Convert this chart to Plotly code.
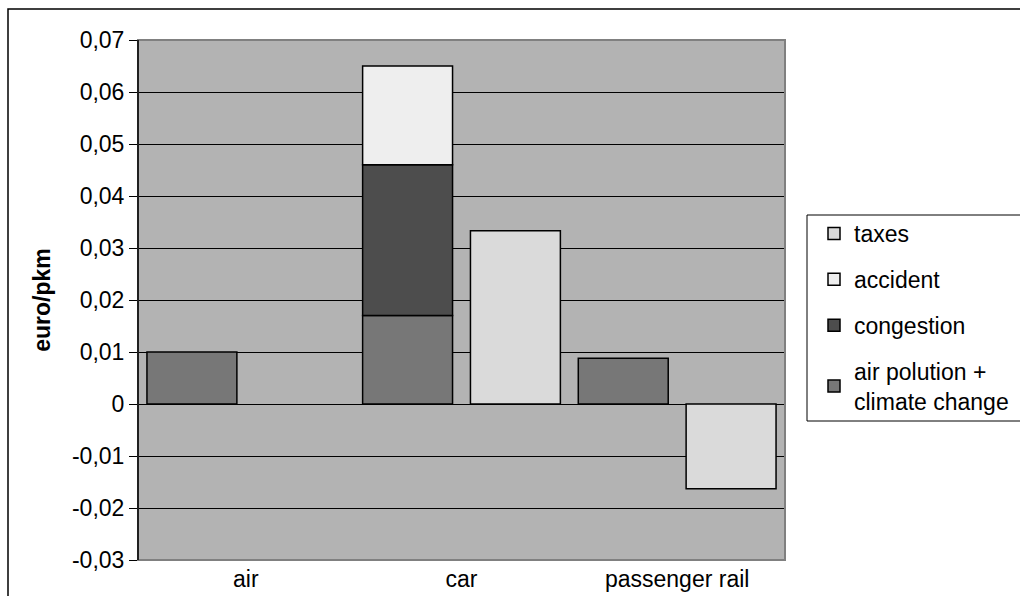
import plotly.graph_objects as go

# Categories and cost components (euro per passenger-km); None = component not present
categories = ["air", "car", "passenger rail"]
air_pollution = [0.010, 0.017, 0.0088]
congestion = [None, 0.029, None]
accident = [None, 0.019, None]
taxes = [None, 0.0333, -0.0163]

# Y axis ticks
tick_values = [-0.03, -0.02, -0.01, 0.0, 0.01, 0.02, 0.03, 0.04, 0.05, 0.06, 0.07]
tick_labels = ["-0,03", "-0,02", "-0,01", "0", "0,01", "0,02", "0,03", "0,04", "0,05", "0,06", "0,07"]

FONT = "Liberation Sans, Arial, sans-serif"
FS = 23
outline = dict(color="#000000", width=1.5)


def v(x):
    return 0.0 if x is None else x


# Stack bases computed from the component values
base_congestion = [v(a) for a in air_pollution]
base_accident = [v(a) + v(c) for a, c in zip(air_pollution, congestion)]

fig = go.Figure()
fig.add_trace(go.Bar(
    x=categories, y=air_pollution, base=[0, 0, 0],
    name="air polution +<br>climate change", offsetgroup="costs",
    legendgroup="g4", legendrank=4,
    marker=dict(color="#777777", line=outline),
))
fig.add_trace(go.Bar(
    x=categories, y=congestion, base=base_congestion,
    name="congestion", offsetgroup="costs",
    legendgroup="g3", legendrank=3,
    marker=dict(color="#4d4d4d", line=outline),
))
fig.add_trace(go.Bar(
    x=categories, y=accident, base=base_accident,
    name="accident", offsetgroup="costs",
    legendgroup="g2", legendrank=2,
    marker=dict(color="#eeeeee", line=outline),
))
fig.add_trace(go.Bar(
    x=categories, y=taxes,
    name="taxes", offsetgroup="taxes",
    legendgroup="g1", legendrank=1,
    marker=dict(color="#dadada", line=outline),
))

L, R, T, B = 138, 235, 40, 36
W, H = 1020, 596
pw, ph = W - L - R, H - T - B


def px_x(p):
    return (p - L) / pw


def px_y(p):
    return (H - B - p) / ph


def open_box(x0, x1, y0, y1):
    # top, left and bottom sides only; the right side runs off the page
    return (f"M {px_x(x1)},{px_y(y0)} L {px_x(x0)},{px_y(y0)} "
            f"L {px_x(x0)},{px_y(y1)} L {px_x(x1)},{px_y(y1)}")


shapes = [
    # outer chart frame (right and bottom sides fall outside the page)
    dict(type="path", xref="paper", yref="paper",
         path=open_box(8, 1100, 9, 640),
         line=dict(color="#000000", width=1.5), layer="below"),
    # legend frame
    dict(type="path", xref="paper", yref="paper",
         path=open_box(807, 1100, 215, 421),
         line=dict(color="#000000", width=1), layer="below"),
    # plot area border
    dict(type="rect", xref="paper", yref="paper",
         x0=0, x1=1, y0=0, y1=1,
         line=dict(color="#808080", width=2), layer="above"),
    # left axis line
    dict(type="line", xref="paper", yref="paper",
         x0=0, x1=0, y0=0, y1=1,
         line=dict(color="#000000", width=1.5), layer="above"),
]

fig.update_layout(
    width=W, height=H,
    margin=dict(l=L, r=R, t=T, b=B, autoexpand=False),
    paper_bgcolor="white",
    plot_bgcolor="#b3b3b3",
    barmode="group",
    bargap=0.0,
    bargroupgap=0.166,
    font=dict(family=FONT, size=FS, color="#000000"),
    shapes=shapes,
    showlegend=True,
    legend=dict(
        x=px_x(814), y=px_y(212), xanchor="left", yanchor="top",
        bgcolor="rgba(0,0,0,0)", bordercolor="rgba(0,0,0,0)", borderwidth=0,
        tracegroupgap=13,
        font=dict(family=FONT, size=FS, color="#000000"),
    ),
    xaxis=dict(
        showgrid=False, ticks="", showline=False, zeroline=False,
        tickfont=dict(family=FONT, size=FS),
        ticklabelstandoff=3,
        automargin=False,
    ),
    yaxis=dict(
        range=[-0.03, 0.07],
        tickvals=tick_values, ticktext=tick_labels,
        ticks="outside", ticklen=8, tickcolor="#000000", tickwidth=1,
        showgrid=True, gridcolor="#000000", gridwidth=1,
        zeroline=True, zerolinecolor="#000000", zerolinewidth=1,
        showline=False,
        tickfont=dict(family=FONT, size=FS),
        title=dict(text="<b>euro/pkm</b>", standoff=14,
                   font=dict(family=FONT, size=FS)),
        automargin=False,
    ),
)

fig.write_html("out.html")
